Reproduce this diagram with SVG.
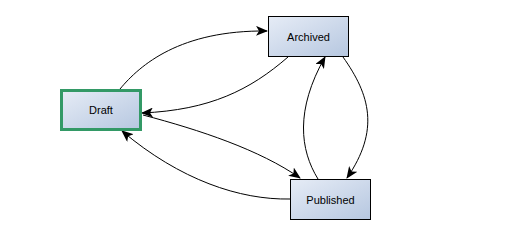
<svg xmlns="http://www.w3.org/2000/svg" width="511" height="240" viewBox="0 0 511 240">
<defs>
<linearGradient id="g" x1="0" y1="0" x2="1" y2="1">
<stop offset="0" stop-color="#e6ecf6"/>
<stop offset="1" stop-color="#b6c7e0"/>
</linearGradient>
<marker id="a" viewBox="0 0 12 10" refX="11" refY="5" markerWidth="12" markerHeight="10" markerUnits="userSpaceOnUse" orient="auto">
<path d="M0,0 L12,5 L0,10 L3,5 Z" fill="#000"/>
</marker>
<style>
.n{fill:url(#g);stroke:#000;stroke-width:1}
.d{fill:url(#g);stroke:#339966;stroke-width:3}
.t{font-family:"Liberation Sans",Arial,sans-serif;font-size:11px;fill:#000;text-anchor:middle;dominant-baseline:central}
.e{fill:none;stroke:#000;stroke-width:1;marker-end:url(#a)}
</style>
</defs>
<rect width="511" height="240" fill="#fff"/>
<g id="edges">
<path class="e" d="M120,89 C140,65 180,30 267,31"/>
<path class="e" d="M288,57 C250,90 210,110 142,113"/>
<path class="e" d="M143,115 C200,130 260,150 300,178"/>
<path class="e" d="M290,199 C240,200 180,180 122,131"/>
<path class="e" d="M318,179 C300,150 295,110 325,57"/>
<path class="e" d="M343,57 C370,95 380,130 347,178"/>
</g>
<g id="Draft">
<rect class="d" x="61.5" y="90.5" width="79" height="39"/>
<text class="t" x="101" y="110">Draft</text>
</g>
<g id="Archived">
<rect class="n" x="268.5" y="16.5" width="80" height="40"/>
<text class="t" x="308.5" y="36.5">Archived</text>
</g>
<g id="Published">
<rect class="n" x="290.5" y="179.5" width="80" height="40"/>
<text class="t" x="330.5" y="199.5">Published</text>
</g>
</svg>
